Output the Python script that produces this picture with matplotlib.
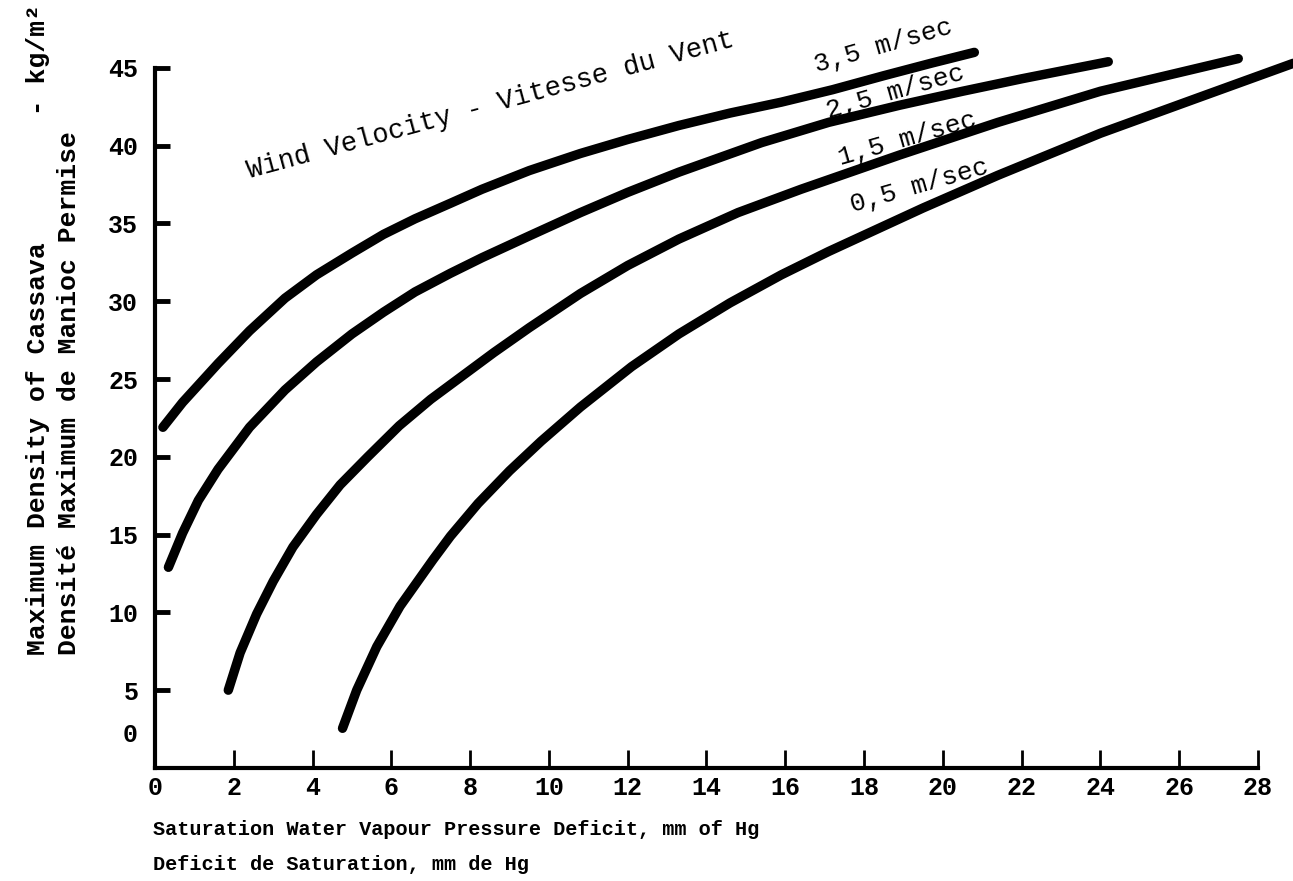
import matplotlib
matplotlib.use("Agg")
import matplotlib.pyplot as plt

# ---- data ----
x_35 = [0.2, 0.7, 1.6, 2.4, 3.3, 4.1, 5.0, 5.8, 6.6, 7.5, 8.3, 9.5, 10.8, 12.0,
        13.3, 14.6, 15.9, 17.2, 18.5, 19.7, 20.8]
y_35 = [21.9, 23.5, 26.0, 28.1, 30.2, 31.7, 33.1, 34.3, 35.3, 36.3, 37.2, 38.4,
        39.5, 40.4, 41.3, 42.1, 42.8, 43.6, 44.5, 45.3, 46.0]

x_25 = [0.34, 0.7, 1.1, 1.6, 2.4, 3.3, 4.1, 5.0, 5.8, 6.6, 7.5, 8.3, 9.5, 10.8,
        12.0, 13.3, 15.4, 17.1, 18.9, 20.5, 22.0, 24.2]
y_25 = [12.9, 15.1, 17.2, 19.2, 21.9, 24.3, 26.1, 27.9, 29.3, 30.6, 31.8, 32.8,
        34.2, 35.7, 37.0, 38.3, 40.2, 41.5, 42.6, 43.5, 44.3, 45.4]

x_15 = [1.86, 2.16, 2.58, 3.0, 3.5, 4.1, 4.7, 5.4, 6.2, 7.0, 7.8, 8.6, 9.5, 10.8,
        12.0, 13.3, 14.8, 16.4, 18.9, 21.4, 24.0, 26.5, 27.5]
y_15 = [5.0, 7.4, 9.9, 12.0, 14.2, 16.3, 18.2, 20.0, 22.0, 23.7, 25.2, 26.7, 28.3,
        30.5, 32.3, 34.0, 35.7, 37.2, 39.4, 41.5, 43.5, 45.0, 45.6]

x_05 = [4.76, 5.12, 5.63, 6.22, 7.06, 7.5, 8.2, 9.0, 9.8, 10.8, 12.1, 13.3, 14.6,
        15.9, 17.1, 19.5, 21.4, 24.0, 26.5, 28.9]
y_05 = [2.55, 5.0, 7.8, 10.4, 13.4, 14.9, 17.0, 19.1, 21.0, 23.2, 25.8, 27.9, 29.9,
        31.7, 33.2, 36.0, 38.1, 40.8, 43.1, 45.3]

series_x = [x_35, x_25, x_15, x_05]
series_y = [y_35, y_25, y_15, y_05]
series_labels = ["3,5 m/sec", "2,5 m/sec", "1,5 m/sec", "0,5 m/sec"]
label_pos = [(16.8, 44.7), (17.1, 41.8), (17.4, 38.75), (17.7, 35.7)]

x_ticks = list(range(0, 29, 2))
y_ticks = list(range(5, 46, 5))

title_text = "Wind Velocity - Vitesse du Vent"
xlabel_1 = "Saturation Water Vapour Pressure Deficit, mm of Hg"
xlabel_2 = "Deficit de Saturation, mm de Hg"
ylabel_1 = "Maximum Density of Cassava        - kg/m\u00b2"
ylabel_2 = "Densit\u00e9 Maximum de Manioc Permise"

FONT = "Liberation Mono"

fig = plt.figure(figsize=(12.93, 8.81), dpi=100)
ax = fig.add_axes([0.1199, 0.1283, 0.853, 0.7946])

for xs, ys in zip(series_x, series_y):
    ax.plot(xs, ys, color="black", lw=6.8, solid_capstyle="round",
            solid_joinstyle="round", clip_on=False)

for lab, (lx, ly) in zip(series_labels, label_pos):
    ax.text(lx, ly, lab, rotation=16, rotation_mode="anchor", ha="left",
            va="baseline", fontsize=19, family=FONT, color="black")

ax.text(2.4, 37.9, title_text, rotation=15.2, rotation_mode="anchor",
        ha="left", va="baseline", fontsize=19.5, family=FONT, color="black")

ax.set_xlim(0, 28)
ax.set_ylim(0, 45)
ax.spines["top"].set_visible(False)
ax.spines["right"].set_visible(False)
for s in ("left", "bottom"):
    ax.spines[s].set_linewidth(3)

ax.set_xticks(x_ticks)
ax.set_xticklabels([str(v) for v in x_ticks])
ax.set_yticks(y_ticks)
ax.set_yticklabels([str(v) for v in y_ticks])
ax.tick_params(axis="x", direction="in", length=13, width=2, pad=6)
ax.tick_params(axis="y", direction="in", length=11, width=3.5, pad=12)
for t in ax.get_xticklabels() + ax.get_yticklabels():
    t.set_fontfamily(FONT)
    t.set_fontsize(18)
    t.set_fontweight("bold")

# y-axis zero label (sits a little above the x axis in the reference)
ax.text(-0.45, 2.1, "0", transform=ax.transData, ha="right", va="center",
        fontsize=18, family=FONT, fontweight="bold")

fig.text(0.1183, 0.0522, xlabel_1, ha="left", va="baseline", fontsize=14.6,
         family=FONT, fontweight="bold")
fig.text(0.1183, 0.0125, xlabel_2, ha="left", va="baseline", fontsize=14.6,
         family=FONT, fontweight="bold")

fig.text(0.0348, 0.2565, ylabel_1, rotation=90, rotation_mode="anchor",
         ha="left", va="baseline", fontsize=19, family=FONT, fontweight="bold")
fig.text(0.0588, 0.2565, ylabel_2, rotation=90, rotation_mode="anchor",
         ha="left", va="baseline", fontsize=19, family=FONT, fontweight="bold")

fig.savefig("out.png", dpi=100, facecolor="white")
